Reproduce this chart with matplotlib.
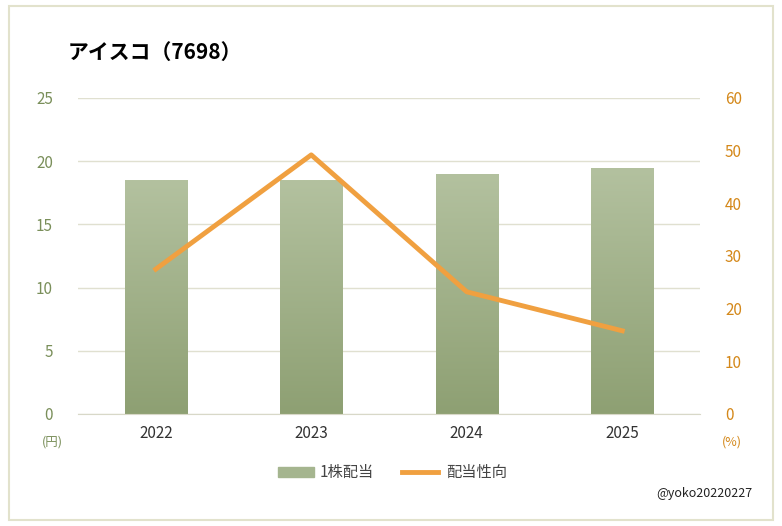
import matplotlib
matplotlib.use("Agg")
import matplotlib.pyplot as plt
import numpy as np
from matplotlib.patches import Rectangle

years = ["2022", "2023", "2024", "2025"]
dividend = [18.5, 18.5, 19.0, 19.5]
payout = [27.5, 49.2, 23.2, 15.8]

plt.rcParams["font.family"] = ["Noto Sans CJK JP"]
fig = plt.figure(figsize=(7.82, 5.26), dpi=100)
fig.patches.append(Rectangle((0.012, 0.012), 0.976, 0.976, transform=fig.transFigure,
                             fill=False, edgecolor="#e2e2cc", linewidth=1.5))
ax = fig.add_axes([78/782, 1-414/526, (700-78)/782, (414-98)/526])
x = np.arange(len(years))
bars = ax.bar(x, dividend, width=0.4, color="#a5b58f", zorder=2)
grad = np.linspace(0, 1, 100).reshape(-1, 1)
from matplotlib.colors import LinearSegmentedColormap
cmap = LinearSegmentedColormap.from_list("g", ["#8ea073", "#b3c19f"])
for b in bars:
    bx, by, bw, bh = b.get_x(), b.get_y(), b.get_width(), b.get_height()
    im = ax.imshow(grad, extent=[bx, bx+bw, by, by+bh], origin="lower", cmap=cmap,
                   aspect="auto", zorder=2)
    im.set_clip_path(b)
ax.set_xlim(-0.5, 3.5)
ax.set_ylim(0, 25)
ax.set_yticks(range(0, 26, 5))
ax.grid(axis="y", color="#e0e0d0", linewidth=1, zorder=0)
for s in ax.spines.values():
    s.set_visible(False)
ax.spines["bottom"].set_visible(True)
ax.spines["bottom"].set_color("#d8d8c8")
ax.tick_params(length=0, labelsize=11)
ax.tick_params(axis="y", colors="#7a8f5a", pad=18)
ax.set_xticks(x)
ax.set_xticklabels(years, color="#333333")
ax.tick_params(axis="x", pad=8)

ax2 = ax.twinx()
ax2.plot(x, payout, color="#f0a040", linewidth=3.5, zorder=3)
ax2.set_ylim(0, 60)
ax2.set_yticks(range(0, 61, 10))
for s in ax2.spines.values():
    s.set_visible(False)
ax2.tick_params(length=0, labelsize=11, colors="#d4881a", pad=18)

fig.text(68/782, 1-52/526, "アイスコ（7698）", fontsize=15, fontweight="bold", va="center")
fig.text(52/782, 1-442/526, "(円)", fontsize=9, color="#7a8f5a", ha="center", va="center")
fig.text(732/782, 1-442/526, "(%)", fontsize=9, color="#d4881a", ha="center", va="center")
fig.patches.append(Rectangle((278/782, 1-477/526), 36/782, 10/526, transform=fig.transFigure,
                             color="#a5b58f"))
fig.text(320/782, 1-472/526, "1株配当", fontsize=11, color="#444444", va="center")
fig.lines.append(plt.Line2D([402/782, 438/782], [1-472/526]*2, transform=fig.transFigure,
                            color="#f0a040", linewidth=3.5))
fig.text(446/782, 1-472/526, "配当性向", fontsize=11, color="#444444", va="center")
fig.text(752/782, 1-494/526, "@yoko20220227", fontsize=9, color="#222222", ha="right", va="center")
fig.savefig("out.png", dpi=100)
